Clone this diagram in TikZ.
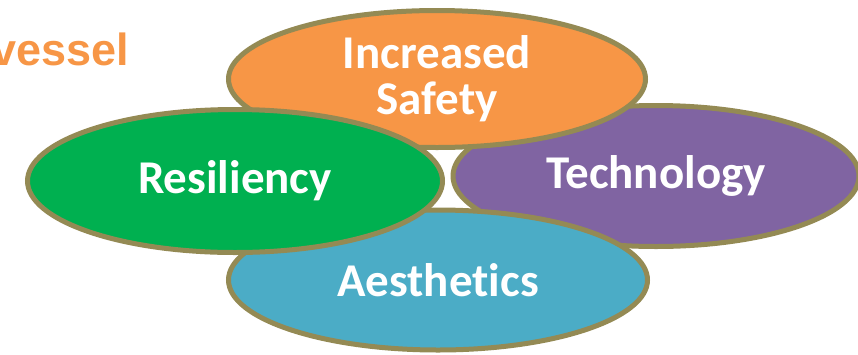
\documentclass[tikz,border=0pt]{standalone}
\usepackage{fontspec}
\setmainfont{Carlito}[Ligatures=NoCommon]
\newfontfamily\arialfont{Liberation Sans}
\usetikzlibrary{shapes.geometric}
\definecolor{rim}{HTML}{948A54}
\definecolor{ora}{HTML}{F79646}
\definecolor{gre}{HTML}{00B050}
\definecolor{pur}{HTML}{8064A2}
\definecolor{blu}{HTML}{4BACC6}
\tikzset{blob/.style={ellipse,draw=rim,line width=5pt,inner sep=0pt,text=white,
		align=center,font=\bfseries\fontsize{47}{46}\selectfont}}
\begin{document}
\begin{tikzpicture}[x=1pt,y=-1pt]
		\useasboundingbox (0,0) rectangle (858,354);
		\node [anchor=base east,text=ora,font=\arialfont\bfseries\fontsize{45}{45}\selectfont] (title) at (133,65) {vessel};
		
		% back to front
		\node [blob,fill=pur,minimum width=406pt,minimum height=141pt] (tech) at (656,176) {Technology};
		\node [blob,fill=ora,minimum width=417pt,minimum height=137pt] (safety) at (437,79) {Increased\\Safety};
		\node [blob,fill=blu,minimum width=419pt,minimum height=140pt] (aest) at (438,280) {Aesthetics};
		\node [blob,fill=gre,minimum width=415pt,minimum height=143pt] (resil) at (235,181) {Resiliency};
		\end{tikzpicture}
\end{document}
